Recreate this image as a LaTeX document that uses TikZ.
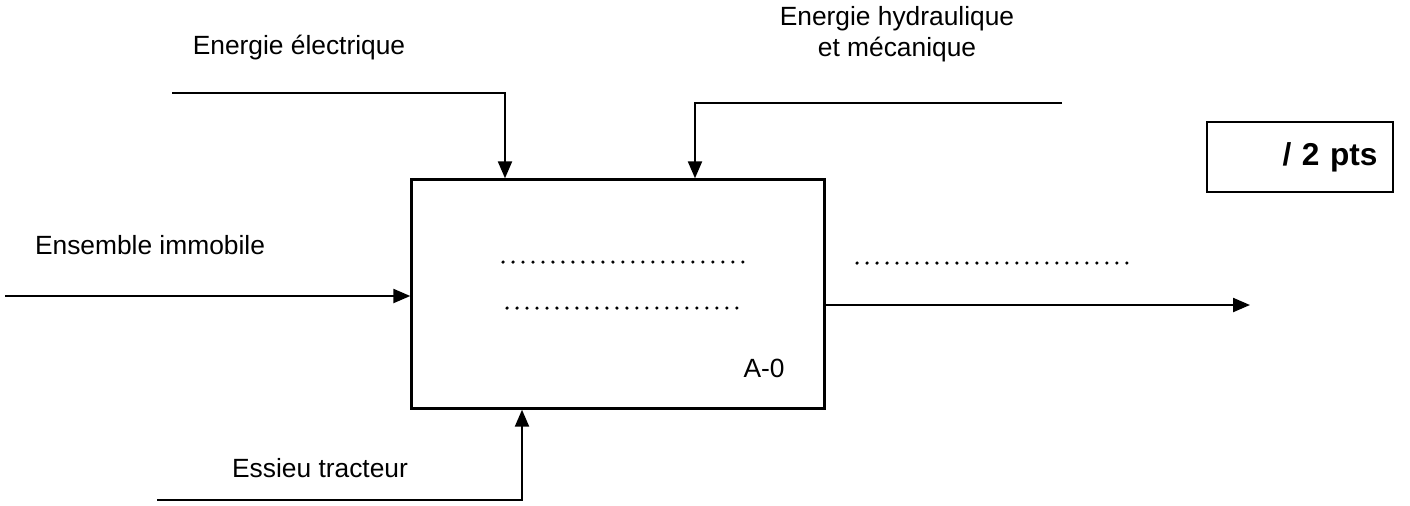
\documentclass[tikz,border=0pt]{standalone}
\usepackage{fontspec}
\setmainfont{Liberation Sans}
\usetikzlibrary{arrows.meta,positioning}

\begin{document}
\begin{tikzpicture}[
    x=0.02cm, y=-0.02cm,
    every node/.style={font=\fontsize{15}{18}\selectfont, align=center, inner sep=0pt},
    fonction/.style={draw, line width=1.4pt, minimum width=8.26cm, minimum height=4.58cm},
    note/.style={draw, line width=1.4pt, minimum width=3.72cm, minimum height=1.4cm},
    flux/.style={-{Triangle[length=3.4mm, width=2.8mm]}, line width=1.3pt},
    pointilles/.style={line width=2pt, line cap=round, dash pattern=on 0pt off 2mm}
]
\useasboundingbox (0,0) rectangle (1410,505);

% boite A-0
\node[fonction] (A0) at (618,294) {};
\node (nom) at (764,368) {A-0};
\draw[pointilles] (503,262) -- (745,262);
\draw[pointilles] (507,308) -- (740,308);

% libelles
\node (elecTxt) at (299,48) {Energie électrique};
\node (hydrTxt) at (897,34) {Energie hydraulique\\et mécanique};
\node (ensTxt) at (150,245) {Ensemble immobile};
\node (essTxt) at (320,468) {Essieu tracteur};
\node[note, text width=3.1cm, align=right, font=\fontsize{18}{21}\selectfont\bfseries] (pts) at (1300,157) {/ 2 pts};

% extremites libres
\coordinate (elec) at (172,93);
\coordinate (elecBas) at (505,0);
\coordinate (hydr) at (1062,103);
\coordinate (hydrBas) at (695,0);
\coordinate (ens) at (5,296);
\coordinate (sortie) at (1250,305);
\coordinate (essieu) at (157,500);
\coordinate (essieuHaut) at (522,0);

\draw[flux] (elec) -| (elecBas |- A0.north);
\draw[flux] (hydr) -| (hydrBas |- A0.north);
\draw[flux] (ens) -- (ens -| A0.west);
\draw[flux] (A0.east |- sortie) -- (sortie);
\draw[flux] (essieu) -| (essieuHaut |- A0.south);
\draw[pointilles] (857,263) -- (1130,263);
\end{tikzpicture}
\end{document}
